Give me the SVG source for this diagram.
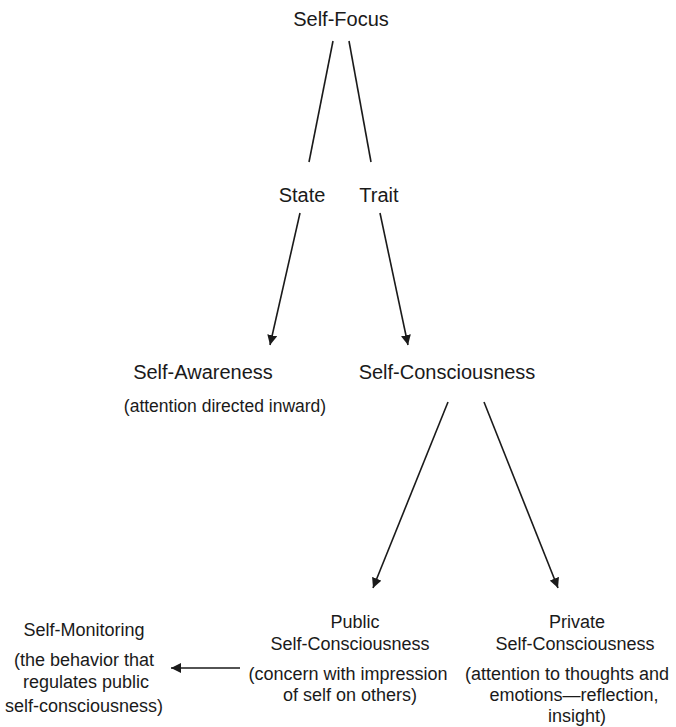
<svg xmlns="http://www.w3.org/2000/svg" width="676" height="727" viewBox="0 0 676 727">
<defs>
<style>
text{font-family:"Liberation Sans",Arial,sans-serif;fill:#1a1a1a;text-anchor:middle}
.t{font-size:20px}
.m{font-size:17.5px}
.s{font-size:18px}
.ln{stroke:#1a1a1a;stroke-width:1.6;fill:none}
</style>
<marker id="ah" viewBox="0 0 10 10" refX="10" refY="5" markerWidth="10" markerHeight="10" markerUnits="userSpaceOnUse" orient="auto">
<path d="M0,0 L10,5 L0,10 z" fill="#1a1a1a"/>
</marker>
</defs>
<rect width="676" height="727" fill="#ffffff"/>
<g id="connectors">
<line class="ln" x1="333" y1="41" x2="309" y2="162"/>
<line class="ln" x1="349" y1="41" x2="371" y2="162"/>
<line class="ln" x1="300" y1="213" x2="270" y2="345" marker-end="url(#ah)"/>
<line class="ln" x1="380" y1="213" x2="408" y2="345" marker-end="url(#ah)"/>
<line class="ln" x1="448" y1="402" x2="373" y2="588" marker-end="url(#ah)"/>
<line class="ln" x1="484" y1="402" x2="558" y2="588" marker-end="url(#ah)"/>
<line class="ln" x1="240" y1="668" x2="171" y2="668" marker-end="url(#ah)"/>
</g>
<g id="self-focus"><text class="t" x="341" y="26">Self-Focus</text></g>
<g id="state"><text class="t" x="302" y="202">State</text></g>
<g id="trait"><text class="t" x="379" y="202">Trait</text></g>
<g id="self-awareness">
<text class="t" x="203" y="379">Self-Awareness</text>
<text class="m" x="225" y="412">(attention directed inward)</text>
</g>
<g id="self-consciousness"><text class="t" x="447" y="379">Self-Consciousness</text></g>
<g id="public">
<text class="s" x="355" y="628">Public</text>
<text class="s" x="350" y="650">Self-Consciousness</text>
<text class="s" x="348" y="680">(concern with impression</text>
<text class="s" x="350" y="701">of self on others)</text>
</g>
<g id="private">
<text class="s" x="577" y="628">Private</text>
<text class="s" x="575" y="650">Self-Consciousness</text>
<text class="s" x="567" y="680">(attention to thoughts and</text>
<text class="s" x="574" y="701">emotions—reflection,</text>
<text class="s" x="577" y="722">insight)</text>
</g>
<g id="self-monitoring">
<text class="s" x="84" y="636">Self-Monitoring</text>
<text class="s" x="84" y="666">(the behavior that</text>
<text class="s" x="86" y="688">regulates public</text>
<text class="s" x="84" y="712">self-consciousness)</text>
</g>
</svg>
